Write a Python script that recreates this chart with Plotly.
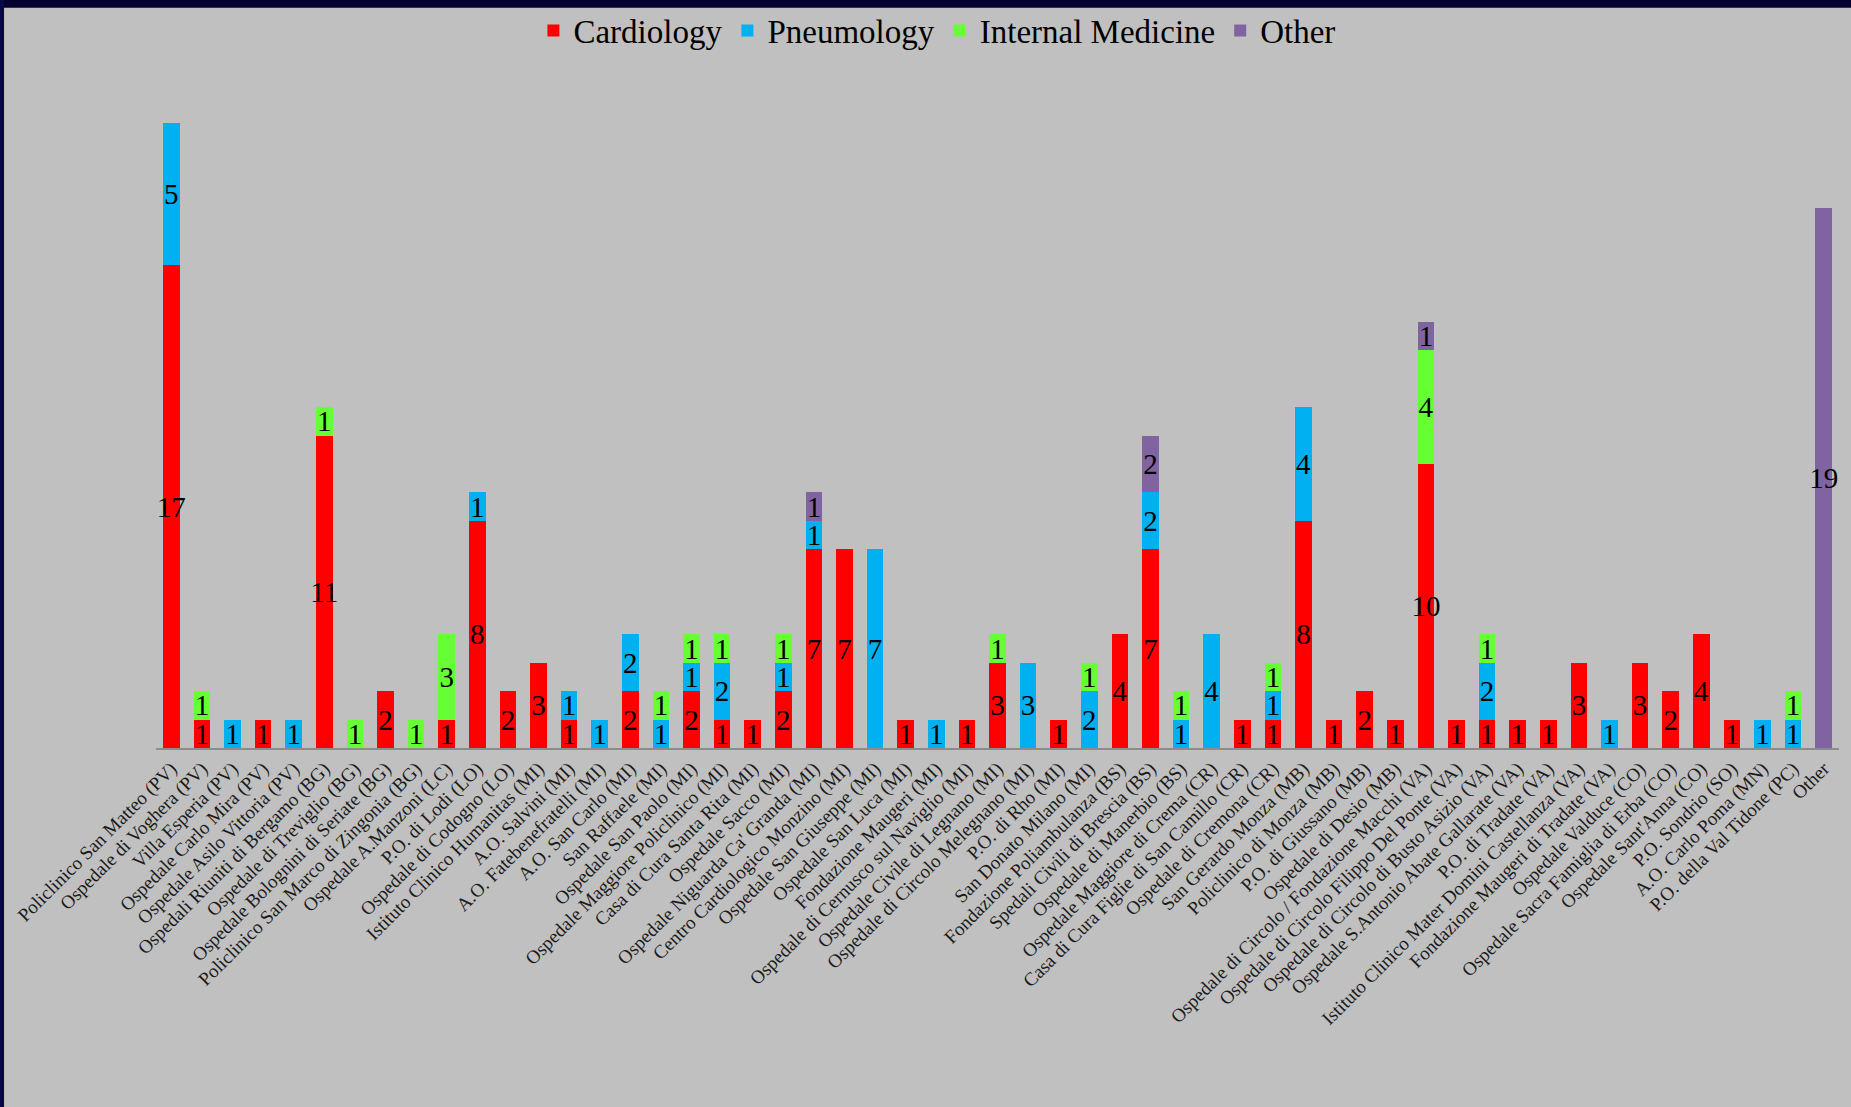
import plotly.graph_objects as go

categories = [
    "Policlinico San Matteo (PV)", "Ospedale di Voghera (PV)", "Villa Esperia (PV)",
    "Ospedale Carlo Mira (PV)", "Ospedale Asilo Vittoria (PV)", "Ospedali Riuniti di Bergamo (BG)",
    "Ospedale di Treviglio (BG)", "Ospedale Bolognini di Seriate (BG)", "Policlinico San Marco di Zingonia (BG)",
    "Ospedale A.Manzoni (LC)", "P.O. di Lodi (LO)", "Ospedale di Codogno (LO)",
    "Istituto Clinico Humanitas (MI)", "A.O. Salvini (MI)", "A.O. Fatebenefratelli (MI)",
    "A.O. San Carlo (MI)", "San Raffaele (MI)", "Ospedale San Paolo (MI)",
    "Ospedale Maggiore Policlinico (MI)", "Casa di Cura Santa Rita (MI)", "Ospedale Sacco (MI)",
    "Ospedale Niguarda Ca' Granda (MI)", "Centro Cardiologico Monzino (MI)", "Ospedale San Giuseppe (MI)",
    "Ospedale San Luca (MI)", "Fondazione Maugeri (MI)", "Ospedale di Cernusco sul Naviglio (MI)",
    "Ospedale Civile di Legnano (MI)", "Ospedale di Circolo Melegnano (MI)", "P.O. di Rho (MI)",
    "San Donato Milano (MI)", "Fondazione Poliambulanza (BS)", "Spedali Civili di Brescia (BS)",
    "Ospedale di Manerbio (BS)", "Ospedale Maggiore di Crema (CR)", "Casa di Cura Figlie di San Camillo (CR)",
    "Ospedale di Cremona (CR)", "San Gerardo Monza (MB)", "Policlinico di Monza (MB)",
    "P.O. di Giussano (MB)", "Ospedale di Desio (MB)", "Ospedale di Circolo / Fondazione Macchi (VA)",
    "Ospedale di Circolo Filippo Del Ponte (VA)", "Ospedale di Circolo di Busto Asizio (VA)",
    "Ospedale S.Antonio Abate Gallarate (VA)", "P.O. di Tradate (VA)",
    "Istituto Clinico Mater Domini Castellanza (VA)", "Fondazione Maugeri di Tradate (VA)",
    "Ospedale Valduce (CO)", "Ospedale Sacra Famiglia di Erba (CO)", "Ospedale Sant'Anna (CO)",
    "P.O. Sondrio (SO)", "A.O. Carlo Poma (MN)", "P.O. della Val Tidone (PC)", "Other",
]

cardiology = [17, 1, 0, 1, 0, 11, 0, 2, 0, 1, 8, 2, 3, 1, 0, 2, 0, 2, 1, 1, 2, 7, 7, 0, 1, 0, 1, 3, 0, 1,
              0, 4, 7, 0, 0, 1, 1, 8, 1, 2, 1, 10, 1, 1, 1, 1, 3, 0, 3, 2, 4, 1, 0, 0, 0]
pneumology = [5, 0, 1, 0, 1, 0, 0, 0, 0, 0, 1, 0, 0, 1, 1, 2, 1, 1, 2, 0, 1, 1, 0, 7, 0, 1, 0, 0, 3, 0,
              2, 0, 2, 1, 4, 0, 1, 4, 0, 0, 0, 0, 0, 2, 0, 0, 0, 1, 0, 0, 0, 0, 1, 1, 0]
internal_medicine = [0, 1, 0, 0, 0, 1, 1, 0, 1, 3, 0, 0, 0, 0, 0, 0, 1, 1, 1, 0, 1, 0, 0, 0, 0, 0, 0, 1, 0, 0,
                     1, 0, 0, 1, 0, 0, 1, 0, 0, 0, 0, 4, 0, 1, 0, 0, 0, 0, 0, 0, 0, 0, 0, 1, 0]
other = [0, 0, 0, 0, 0, 0, 0, 0, 0, 0, 0, 0, 0, 0, 0, 0, 0, 0, 0, 0, 0, 1, 0, 0, 0, 0, 0, 0, 0, 0,
         0, 0, 2, 0, 0, 0, 0, 0, 0, 0, 0, 1, 0, 0, 0, 0, 0, 0, 0, 0, 0, 0, 0, 0, 19]

series = [
    ("Cardiology", cardiology, "#FF0000"),
    ("Pneumology", pneumology, "#00B0F0"),
    ("Internal Medicine", internal_medicine, "#66FF33"),
    ("Other", other, "#8064A2"),
]

SERIF = "Liberation Serif, Times New Roman, serif"

fig = go.Figure()
for name, vals, color in series:
    fig.add_trace(go.Bar(
        name=name, x=categories, y=vals,
        marker=dict(color=color, line=dict(width=0)),
        text=[str(v) if v else "" for v in vals],
        textposition="inside", insidetextanchor="middle",
        textangle=0, constraintext="none",
        textfont=dict(family=SERIF, size=29, color="black"),
        insidetextfont=dict(family=SERIF, size=29, color="black"),
        hoverinfo="x+y+name",
    ))

# page frame (dark navy border on top and left)
shapes = [
    dict(type="rect", xref="paper", yref="paper", x0=-0.2, x1=1.2, y0=1.1845, y1=1.3,
         fillcolor="#020230", line=dict(width=0), layer="above"),
    dict(type="rect", xref="paper", yref="paper", x0=-0.2, x1=-0.0903, y0=-0.8, y1=1.3,
         fillcolor="#07074a", line=dict(width=0), layer="above"),
]

fig.update_layout(
    barmode="stack",
    bargap=0.46,
    width=1851, height=1107,
    margin=dict(l=156, r=12, t=123, b=359, autoexpand=False),
    paper_bgcolor="#C0C0C0",
    plot_bgcolor="#C0C0C0",
    font=dict(family=SERIF, color="black"),
    shapes=shapes,
    showlegend=True,
    legend=dict(
        orientation="h", x=0.464, xanchor="center", y=1.148, yanchor="middle",
        font=dict(family=SERIF, size=33, color="black"),
        bgcolor="rgba(0,0,0,0)", traceorder="normal", itemwidth=30,
    ),
    xaxis=dict(
        type="category", range=[-0.5, 54.5], tickangle=-45,
        tickfont=dict(family=SERIF, size=19, color="#1a1a1a"),
        showline=True, linecolor="#8c8c8c", linewidth=2,
        showgrid=False, ticks="", automargin=False,
    ),
    yaxis=dict(
        range=[0, 22], showgrid=False, showticklabels=False, zeroline=False,
        showline=False, ticks="", automargin=False,
    ),
)

fig.write_html("out.html")
